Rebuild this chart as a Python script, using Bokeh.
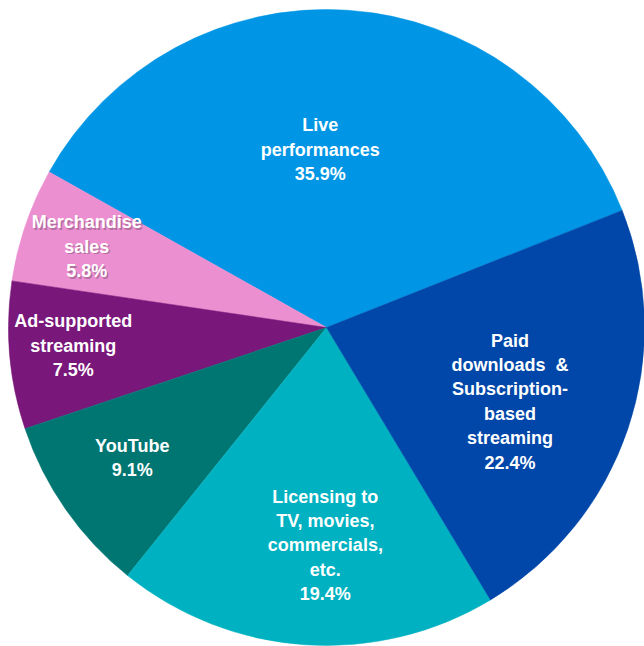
import math

from bokeh.core.properties import value
from bokeh.embed import file_html
from bokeh.models import ColumnDataSource, Range1d
from bokeh.plotting import figure
from bokeh.resources import INLINE

# Revenue sources, listed anticlockwise starting from the right-hand edge of "Live performances"
categories = [
    "Live\nperformances",
    "Merchandise\nsales",
    "Ad-supported\nstreaming",
    "YouTube",
    "Licensing to\nTV, movies,\ncommercials,\netc.",
    "Paid\ndownloads\u00a0 &\nSubscription-\nbased\nstreaming",
]
shares = [35.9, 5.8, 7.5, 9.1, 19.4, 22.4]
colors = ["#0096E5", "#EC8FD0", "#79177A", "#007672", "#00B2C1", "#0047A9"]

# Layout (pixels)
W, H = 644, 646
CX, CY, R = 326, H - 327, 318
START_DEG = 21.6
# label anchor per slice: (distance from centre, direction in degrees)
label_polar = [(178, 92.0), (253, 161.4), (254, 184.1), (234, 213.9), (218, 269.7), (198, -22.0)]
shadow_alpha = [0.0, 0.4, 0.0, 0.0, 0.0, 0.0]

total = sum(shares)
starts, ends = [], []
acc = math.radians(START_DEG)
for s in shares:
    span = s / total * 2 * math.pi
    starts.append(acc)
    ends.append(acc + span)
    acc += span

labels = [f"{c}\n{s:.1f}%" for c, s in zip(categories, shares)]
lx = [CX + r * math.cos(math.radians(a)) for r, a in label_polar]
ly = [CY + r * math.sin(math.radians(a)) for r, a in label_polar]

src = ColumnDataSource(dict(
    start=starts, end=ends, color=colors, label=labels,
    lx=lx, ly=ly, sx=[x + 1.5 for x in lx], sy=[y - 1.5 for y in ly],
    salpha=shadow_alpha,
))

p = figure(width=W, height=H, x_range=Range1d(0, W), y_range=Range1d(0, H),
           output_backend="svg", toolbar_location=None, min_border=0)
p.axis.visible = False
p.grid.visible = False
p.outline_line_color = None
p.background_fill_color = "white"
p.border_fill_color = "white"

p.wedge(x=CX, y=CY, radius=R, start_angle="start", end_angle="end",
        direction="anticlock", fill_color="color", line_color="color",
        line_width=0.5, source=src)

font_kw = dict(text_align="center", text_baseline="middle",
               text_font=value("Liberation Sans"), text_font_style="bold",
               text_font_size="18px", text_line_height=1.22)

# soft drop shadow under the labels that sit on light fills
p.text(x="sx", y="sy", text="label", text_color="#5a3a50", text_alpha="salpha",
       source=src, **font_kw)
p.text(x="lx", y="ly", text="label", text_color="white", source=src, **font_kw)

open("out.html", "w").write(file_html(p, INLINE))
